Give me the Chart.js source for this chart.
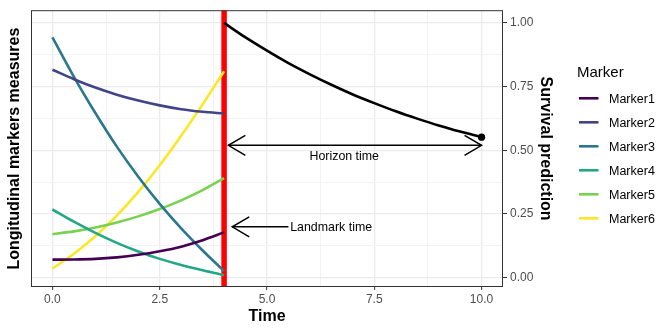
<!DOCTYPE html>
<html>
<head>
<meta charset="utf-8">
<script src="https://cdn.jsdelivr.net/npm/chart.js@4/dist/chart.umd.min.js"></script>
<style>
  html, body { margin: 0; padding: 0; background: #ffffff; }
  canvas { display: block; }
</style>
</head>
<body>
<canvas id="chart" width="668" height="334"></canvas>
<script>
// ---------------- DATA ----------------
const markerNames = ['Marker1', 'Marker2', 'Marker3', 'Marker4', 'Marker5', 'Marker6'];
const markerTimes = [0, 0.5, 1, 1.5, 2, 2.5, 3, 3.5, 4];
const marker1 = [0.070, 0.0705, 0.073, 0.079, 0.089, 0.103, 0.121, 0.146, 0.177];
const marker2 = [0.816, 0.779, 0.746, 0.718, 0.695, 0.676, 0.661, 0.651, 0.644];
const marker3 = [0.943, 0.788, 0.646, 0.514, 0.396, 0.289, 0.193, 0.106, 0.025];
const marker4 = [0.267, 0.219, 0.175, 0.136, 0.102, 0.073, 0.049, 0.028, 0.009];
const marker5 = [0.170, 0.181, 0.196, 0.216, 0.240, 0.269, 0.303, 0.343, 0.390];
const marker6 = [0.035, 0.093, 0.162, 0.243, 0.336, 0.441, 0.557, 0.680, 0.810];
const markerSeries = [marker1, marker2, marker3, marker4, marker5, marker6];

const survivalTimes  = [4, 4.5, 5, 5.5, 6, 6.5, 7, 7.5, 8, 8.5, 9, 9.5, 10];
const survivalValues = [1.000, 0.943, 0.891, 0.842, 0.798, 0.757, 0.719, 0.685, 0.653, 0.624, 0.597, 0.573, 0.551];

const landmarkTime = 4;
const horizonTime = 10;

const xTickValues  = [0, 1.25, 2.5, 3.75, 5, 6.25, 7.5, 8.75, 10];
const xLabelValues = [0, 2.5, 5, 7.5, 10];
const yGridValues  = [0, 0.125, 0.25, 0.375, 0.5, 0.625, 0.75, 0.875, 1];
const yRightTickValues = [0, 0.25, 0.5, 0.75, 1];
const xRange = [-0.5, 10.5];
const yRange = [-0.0375, 1.05];

// annotation anchors (data coordinates)
const horizonArrow  = { from: 4.1, to: 10, y: 0.519, label: 'Horizon time', labelX: 6.8, labelY: 0.462 };
const landmarkArrow = { from: 5.5, to: 4.19, y: 0.199, label: 'Landmark time', labelX: 5.54, labelY: 0.181 };

// ---------------- STYLE ----------------
const markerColors = ['#440154', '#414487', '#2A788E', '#22A884', '#7AD151', '#FDE725'];
const FONT = '"Liberation Sans", Arial, Helvetica, sans-serif';
const gridMajor = '#EBEBEB';
const gridMinor = '#F3F3F3';
const isMajorX = v => xLabelValues.some(m => Math.abs(m - v) < 1e-9);
const isMajorY = v => yRightTickValues.some(m => Math.abs(m - v) < 1e-9);

const datasets = markerSeries.map((vals, i) => ({
  label: markerNames[i],
  data: markerTimes.map((t, j) => ({ x: t, y: vals[j] })),
  borderColor: markerColors[i],
  backgroundColor: markerColors[i],
  borderWidth: 2.6,
  pointRadius: 0,
  cubicInterpolationMode: 'monotone',
  yAxisID: 'y',
  order: 1
}));

datasets.push({
  label: 'Survival',
  data: survivalTimes.map((t, j) => ({ x: t, y: survivalValues[j] })),
  borderColor: '#000000',
  backgroundColor: '#000000',
  borderWidth: 2.6,
  pointRadius: ctx => (ctx.dataIndex === survivalTimes.length - 1 ? 3.6 : 0),
  pointBorderWidth: 0,
  cubicInterpolationMode: 'monotone',
  yAxisID: 'y1',
  order: 1
});

datasets.push({
  label: 'Landmark',
  data: [{ x: landmarkTime, y: yRange[0] }, { x: landmarkTime, y: yRange[1] }],
  borderColor: '#FF0000',
  borderWidth: 5.5,
  pointRadius: 0,
  yAxisID: 'y',
  order: 5
});

function drawHead(ctx, x, y, dir) {
  ctx.beginPath();
  ctx.moveTo(x + dir * 17, y - 10);
  ctx.lineTo(x, y);
  ctx.lineTo(x + dir * 17, y + 10);
  ctx.stroke();
}

const decorations = {
  id: 'decorations',
  afterDatasetsDraw(chart) {
    const { ctx, chartArea: ca, scales } = chart;
    const xs = scales.x, ys = scales.y;
    ctx.save();
    // panel border
    ctx.strokeStyle = '#333333';
    ctx.lineWidth = 1;
    ctx.strokeRect(ca.left + 0.5, ca.top + 0.5, ca.width - 1, ca.height - 1);

    // arrows
    ctx.strokeStyle = '#000000';
    ctx.lineWidth = 1.5;
    ctx.lineCap = 'butt';
    // horizon: double headed
    let y = ys.getPixelForValue(horizonArrow.y);
    let x1 = xs.getPixelForValue(horizonArrow.from);
    let x2 = xs.getPixelForValue(horizonArrow.to);
    ctx.beginPath(); ctx.moveTo(x1, y); ctx.lineTo(x2, y); ctx.stroke();
    drawHead(ctx, x1, y, 1);
    drawHead(ctx, x2, y, -1);
    // landmark: head at the 'to' end
    y = ys.getPixelForValue(landmarkArrow.y);
    x1 = xs.getPixelForValue(landmarkArrow.from);
    x2 = xs.getPixelForValue(landmarkArrow.to);
    ctx.beginPath(); ctx.moveTo(x1, y); ctx.lineTo(x2, y); ctx.stroke();
    drawHead(ctx, x2, y, 1);

    // labels
    ctx.fillStyle = '#000000';
    ctx.font = '12.4px ' + FONT;
    ctx.textBaseline = 'alphabetic';
    ctx.textAlign = 'center';
    ctx.fillText(horizonArrow.label, xs.getPixelForValue(horizonArrow.labelX), ys.getPixelForValue(horizonArrow.labelY));
    ctx.textAlign = 'left';
    ctx.fillText(landmarkArrow.label, xs.getPixelForValue(landmarkArrow.labelX), ys.getPixelForValue(landmarkArrow.labelY));
    ctx.restore();
  },
  afterDraw(chart) {
    const { ctx } = chart;
    ctx.save();
    // legend
    ctx.fillStyle = '#000000';
    ctx.textAlign = 'left';
    ctx.textBaseline = 'alphabetic';
    ctx.font = '15px ' + FONT;
    ctx.fillText('Marker', 577, 77.3);
    ctx.font = '12.5px ' + FONT;
    markerNames.forEach((name, i) => {
      const cy = 98.3 + i * 24;
      ctx.strokeStyle = markerColors[i];
      ctx.lineWidth = 2.6;
      ctx.beginPath(); ctx.moveTo(579, cy); ctx.lineTo(598.5, cy); ctx.stroke();
      ctx.fillStyle = '#000000';
      ctx.fillText(name, 609, cy + 4.4);
    });
    ctx.restore();
  }
};

new Chart(document.getElementById('chart'), {
  type: 'line',
  data: { datasets },
  plugins: [decorations],
  options: {
    responsive: false,
    animation: false,
    devicePixelRatio: 1,
    layout: { padding: { top: 6, right: 108, bottom: 0, left: 0 } },
    plugins: { legend: { display: false }, tooltip: { enabled: false } },
    scales: {
      x: {
        type: 'linear',
        min: xRange[0], max: xRange[1],
        afterBuildTicks: s => { s.ticks = xTickValues.map(v => ({ value: v })); },
        afterFit: s => { s.height = 47; },
        border: { display: false },
        grid: {
          color: c => (isMajorX(c.tick.value) ? gridMajor : gridMinor),
          lineWidth: c => (isMajorX(c.tick.value) ? 1.3 : 1),
          drawTicks: true,
          tickLength: 3,
          tickWidth: 1,
          tickColor: c => (isMajorX(c.tick.value) ? '#333333' : 'rgba(0,0,0,0)')
        },
        ticks: {
          autoSkip: false, maxRotation: 0, minRotation: 0,
          padding: 2.6,
          color: '#4D4D4D',
          font: { family: FONT, size: 12 },
          callback: v => (isMajorX(v) ? v.toFixed(1) : '')
        },
        title: {
          display: true, text: 'Time', color: '#000000',
          font: { family: FONT, size: 16, weight: 'bold' },
          padding: { top: 0, bottom: 8.2 }
        }
      },
      y: {
        type: 'linear', position: 'left',
        min: yRange[0], max: yRange[1],
        afterBuildTicks: s => { s.ticks = yGridValues.map(v => ({ value: v })); },
        afterFit: s => { s.width = 31; },
        border: { display: false },
        grid: {
          color: c => (isMajorY(c.tick.value) ? gridMajor : gridMinor),
          lineWidth: c => (isMajorY(c.tick.value) ? 1.3 : 1),
          drawTicks: false
        },
        ticks: { display: false },
        title: {
          display: true, text: 'Longitudinal markers measures', color: '#000000',
          font: { family: FONT, size: 16, weight: 'bold' },
          padding: { top: 4.7, bottom: 0 }
        }
      },
      y1: {
        type: 'linear', position: 'right',
        min: yRange[0], max: yRange[1],
        afterBuildTicks: s => { s.ticks = yRightTickValues.map(v => ({ value: v })); },
        afterFit: s => { s.width = 57; },
        border: { display: false },
        grid: { drawOnChartArea: false, drawTicks: true, tickLength: 4, tickColor: '#333333', tickWidth: 1 },
        ticks: {
          padding: 3, color: '#4D4D4D',
          font: { family: FONT, size: 12 },
          callback: v => v.toFixed(2)
        },
        title: {
          display: true, text: 'Survival prediction', color: '#000000',
          font: { family: FONT, size: 16, weight: 'bold' },
          padding: { top: 5.4, bottom: 0 }
        }
      }
    }
  }
});
</script>
</body>
</html>
